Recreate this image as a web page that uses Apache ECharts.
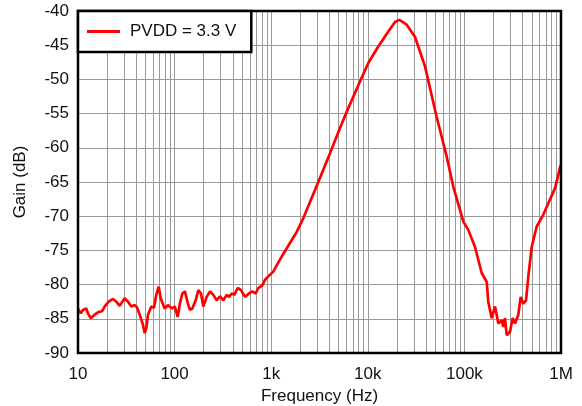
<!DOCTYPE html>
<html><head><meta charset="utf-8">
<script src="https://cdn.jsdelivr.net/npm/echarts@6/dist/echarts.min.js"></script>
<style>html,body{margin:0;padding:0;background:#fff}#c{width:582px;height:406px}</style>
</head><body><div id="c"></div>
<script>
const seriesName = 'PVDD = 3.3 V';
const freqHz = [10,10.66,11.27,12.19,12.69,13.53,14.89,16.38,17.72,18.9,20.79,23.03,24.92,27.02,30.43,32.93,35.63,38.64,41.11,43.52,47.08,49.03,50.93,53.04,57.39,61.2,64.66,68.45,71.79,78.99,85.46,93.99,100.2,107.7,113.7,120.2,128.2,136.7,144.3,152.5,165.4,176,187.7,198.2,214.9,232.5,251.6,272.8,295.1,319.2,346.2,365.7,390.1,415,450,486.9,535.6,589.3,637.3,691,735.3,809,862.7,933.3,1051,1140,1285,1837,2149,3073,4064,5157,6281,8299,10120,12850,16300,19140,21190,25280,30830,39100,51650,65600,76800,97500,109700,128800,151000,170200,176700,191700,207500,224500,243300,252800,263000,274100,296500,316200,334200,361600,382700,407200,434400,459100,497800,560100,655500,739300,867100,993000];
const gainDb = [-83.5,-84.2,-83.7,-83.5,-84.2,-84.9,-84.4,-84.0,-83.9,-83.2,-82.5,-82.1,-82.5,-83.1,-82.0,-82.5,-83.2,-83.0,-83.4,-84.4,-85.9,-87.1,-86.4,-84.4,-83.2,-83.4,-81.5,-80.3,-82.0,-83.5,-83.0,-83.5,-83.2,-84.7,-82.7,-81.3,-81.0,-82.7,-83.7,-83.5,-82.3,-80.8,-81.3,-83.2,-81.8,-81.0,-81.5,-82.3,-81.7,-82.3,-81.5,-81.8,-81.3,-81.5,-80.5,-80.8,-81.8,-81.3,-81.0,-81.3,-80.5,-80.1,-79.3,-78.8,-78.1,-77.2,-75.9,-72.3,-70.3,-65.0,-60.8,-57.1,-54.2,-50.3,-47.6,-45.2,-43.0,-41.6,-41.3,-42.0,-43.8,-48.1,-55.5,-61.3,-65.7,-70.8,-72.0,-74.5,-78.3,-79.6,-82.5,-84.9,-83.2,-85.7,-85.2,-86.2,-84.9,-87.4,-86.9,-84.9,-85.7,-84.4,-81.8,-82.8,-82.3,-78.8,-74.5,-71.5,-69.8,-68.1,-65.9,-62.5];
const xTickLabels = {10:'10',100:'100',1000:'1k',10000:'10k',100000:'100k',1000000:'1M'};
const decades = [10,100,1000,10000,100000];
const minorMultipliers = [2,3,4,5,6,7,8,9];

const minorGrid = [];
decades.forEach(d => minorMultipliers.forEach(m => minorGrid.push({xAxis: d*m})));

const chart = echarts.init(document.getElementById('c'), null, {renderer:'canvas'});
const font = 'Liberation Sans, Arial, sans-serif';
const fs = 17;
chart.setOption({
  animation:false,
  backgroundColor:'#fff',
  grid:{left:78,right:21,top:11,bottom:53,containLabel:false,outerBoundsMode:'none',show:true,borderColor:'#000',borderWidth:2.5,backgroundColor:'transparent',z:10},
  legend:{
    data:[{name:seriesName}],
    left:78,top:11,
    icon:'rect',itemWidth:33,itemHeight:3,itemGap:10,
    padding:[12,15,12,9],
    borderColor:'#000',borderWidth:2.5,borderRadius:0,
    backgroundColor:'#fff',
    textStyle:{fontFamily:font,fontSize:fs,color:'#111',padding:[0,0,0,5]},
    z:20
  },
  xAxis:{
    type:'log',logBase:10,min:10,max:1000000,
    name:'Frequency (Hz)',nameLocation:'middle',nameGap:33,
    nameTextStyle:{fontFamily:font,fontSize:fs,color:'#111'},
    axisLine:{show:false},axisTick:{show:false},
    axisLabel:{fontFamily:font,fontSize:fs,color:'#111',margin:13,formatter:v=>xTickLabels[Math.round(v)]||''},
    splitLine:{show:true,lineStyle:{color:'#999',width:1}}
  },
  yAxis:{
    type:'value',min:-90,max:-40,interval:5,
    name:'Gain (dB)',nameLocation:'middle',nameGap:49,nameRotate:90,
    nameTextStyle:{fontFamily:font,fontSize:fs,color:'#111'},
    axisLine:{show:false},axisTick:{show:false},
    axisLabel:{fontFamily:font,fontSize:fs,color:'#111',margin:9},
    splitLine:{show:true,lineStyle:{color:'#999',width:1}}
  },
  series:[{
    name:seriesName,type:'line',showSymbol:false,symbol:'none',
    data:freqHz.map((f,i)=>[f,gainDb[i]]),
    lineStyle:{color:'#ff0000',width:2.7},
    itemStyle:{color:'#ff0000'},
    z:5,
    markLine:{silent:true,symbol:'none',label:{show:false},
      lineStyle:{color:'#999',width:1,type:'solid'},
      data:minorGrid,z:1}
  }]
});
</script></body></html>
